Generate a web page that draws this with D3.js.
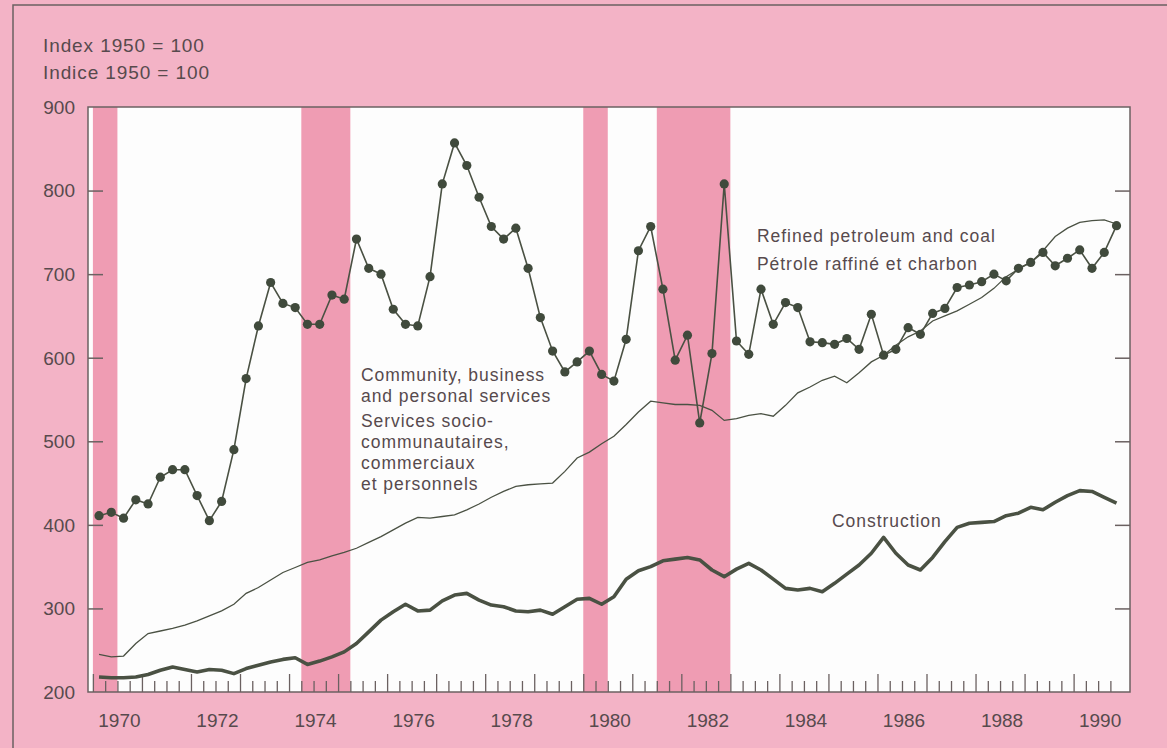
<!DOCTYPE html>
<html>
<head>
<meta charset="utf-8">
<script src="https://cdn.jsdelivr.net/npm/d3@7"></script>
<style>
  body { margin: 0; background: #f3b3c6; }
  svg { display: block; }
  text { font-family: "Liberation Sans", Arial, Helvetica, sans-serif; fill: #574a4d; }
</style>
</head>
<body>
<svg id="chart" width="1167" height="748"></svg>
<script>
// quarterly index values, 1970Q1 .. 1990Q4 (1950 = 100)
let firstYear = 1970;

let petroleum = [
  411, 415, 408, 430, 425, 457, 466, 466, 435, 405, 428, 490,
  575, 638, 690, 665, 660, 640, 640, 675, 670, 742, 707, 700,
  658, 640, 638, 697, 808, 857, 830, 792, 757, 742, 755, 707,
  648, 608, 583, 595, 608, 580, 572, 622, 728, 757, 682, 597,
  627, 522, 605, 808, 620, 604, 682, 640, 666, 660, 619, 618,
  616, 623, 610, 652, 603, 610, 636, 628, 653, 659, 684, 687,
  691, 700, 692, 707, 714, 726, 710, 719, 729, 707, 726, 758
];

let services = [
  245, 242, 243, 258, 270, 273, 276, 280, 285, 291, 297, 305,
  318, 325, 334, 343, 349, 355, 358, 363, 367, 372, 379, 386,
  394, 402, 409, 408, 410, 412, 418, 425, 433, 440, 446, 448,
  449, 450, 464, 480, 487, 497, 506, 520, 535, 548, 546, 544,
  544, 543, 537, 525, 527, 531, 533, 530, 543, 558, 565, 573,
  578, 570, 582, 595, 603, 615, 625, 632, 644, 650, 656, 664,
  672, 683, 697, 706, 714, 728, 745, 755, 762, 764, 765, 760
];

let construction = [
  218, 217, 217, 218, 221, 226, 230, 227, 224, 227, 226, 222,
  228, 232, 236, 239, 241, 233, 237, 242, 248, 258, 272, 286,
  296, 305, 297, 298, 309, 316, 318, 310, 304, 302, 297, 296,
  298, 293, 302, 311, 312, 305, 314, 335, 345, 350, 357, 359,
  361, 358, 346, 338, 347, 354, 346, 335, 324, 322, 324, 320,
  330, 341, 352, 366, 385, 366, 352, 346, 361, 380, 397, 402,
  403, 404, 411, 414, 421, 418, 427, 435, 441, 440, 433, 426
];

// shaded periods, in decimal years
let recessions = [[1970.0, 1970.5], [1974.25, 1975.25], [1980.0, 1980.5], [1981.5, 1983.0]];

let yTicks = [200, 300, 400, 500, 600, 700, 800, 900];
let yearLabels = [1970, 1972, 1974, 1976, 1978, 1980, 1982, 1984, 1986, 1988, 1990];

let svg = d3.select('#chart');
let plotLeft = 88, plotRight = 1130, plotTop = 107, plotBottom = 692;

let x = d3.scaleLinear().domain([1969.9, 1991.15]).range([plotLeft, plotRight]);
let y = d3.scaleLinear().domain([200, 900]).range([plotBottom, plotTop]);

// quarter midpoint in decimal years
function qt(i) { return firstYear + i / 4 + 0.125; }

let ink = '#4a5143';
let frameInk = '#6b6161';

// outer frame
svg.append('path')
  .attr('d', 'M13,748 V5 H1167')
  .attr('fill', 'none')
  .attr('stroke', frameInk)
  .attr('stroke-width', 1.5);

svg.append('text').attr('x', 43).attr('y', 52)
  .style('font-size', '19px').style('letter-spacing', '0.9px')
  .text('Index 1950 = 100');
svg.append('text').attr('x', 43).attr('y', 79)
  .style('font-size', '19px').style('letter-spacing', '0.9px')
  .text('Indice 1950 = 100');

// plot background
svg.append('rect')
  .attr('x', plotLeft).attr('y', plotTop)
  .attr('width', plotRight - plotLeft).attr('height', plotBottom - plotTop)
  .attr('fill', '#fdfdfd');

svg.append('g').selectAll('rect')
  .data(recessions)
  .join('rect')
    .attr('x', d => x(d[0]))
    .attr('y', plotTop)
    .attr('width', d => x(d[1]) - x(d[0]))
    .attr('height', plotBottom - plotTop)
    .attr('fill', '#ef9cb3');

// y axis ticks on both sides, pointing in
let yAxisL = d3.axisRight(y).tickValues(yTicks.slice(1, -1)).tickSize(15).tickFormat('');
let yAxisR = d3.axisLeft(y).tickValues(yTicks.slice(1, -1)).tickSize(15).tickFormat('');
[[yAxisL, plotLeft], [yAxisR, plotRight]].forEach(function (a) {
  let g = svg.append('g').attr('transform', 'translate(' + a[1] + ',0)').call(a[0]);
  g.select('.domain').remove();
  g.selectAll('line').attr('stroke', frameInk).attr('stroke-width', 1.5);
});

svg.append('g').selectAll('text')
  .data(yTicks)
  .join('text')
    .attr('x', 75)
    .attr('y', d => y(d))
    .attr('dy', '0.36em')
    .attr('text-anchor', 'end')
    .style('font-size', '19px')
    .text(d => d);

// x axis: quarterly ticks, taller at each year
let quarters = d3.range(1970, 1991, 0.25);
let xAxis = d3.axisTop(x).tickValues(quarters).tickSize(0).tickFormat('');
let gx = svg.append('g').attr('transform', 'translate(0,' + plotBottom + ')').call(xAxis);
gx.select('.domain').remove();
gx.selectAll('.tick line')
  .attr('y2', d => Math.abs(d - Math.round(d)) < 1e-6 ? -18 : -11)
  .attr('stroke', frameInk)
  .attr('stroke-width', 1.3);

svg.append('g').selectAll('text')
  .data(yearLabels)
  .join('text')
    .attr('x', d => x(d + 0.5) + 2)
    .attr('y', 727)
    .attr('text-anchor', 'middle')
    .style('font-size', '19px')
    .text(d => d);

// series
let line = d3.line()
  .x((d, i) => x(qt(i)))
  .y(d => y(d));

svg.append('path')
  .datum(services)
  .attr('d', line)
  .attr('fill', 'none')
  .attr('stroke', ink)
  .attr('stroke-width', 1.3);

svg.append('path')
  .datum(construction)
  .attr('d', line)
  .attr('fill', 'none')
  .attr('stroke', ink)
  .attr('stroke-width', 3.6)
  .attr('stroke-linejoin', 'round');

svg.append('path')
  .datum(petroleum)
  .attr('d', line)
  .attr('fill', 'none')
  .attr('stroke', ink)
  .attr('stroke-width', 1.6);

svg.append('g').selectAll('circle')
  .data(petroleum)
  .join('circle')
    .attr('cx', (d, i) => x(qt(i)))
    .attr('cy', d => y(d))
    .attr('r', 4.6)
    .attr('fill', '#404a3c');

// plot frame
svg.append('rect')
  .attr('x', plotLeft).attr('y', plotTop)
  .attr('width', plotRight - plotLeft).attr('height', plotBottom - plotTop)
  .attr('fill', 'none')
  .attr('stroke', frameInk)
  .attr('stroke-width', 1.5);

// series labels
let notes = [
  { x: 361, y: 381, t: 'Community, business' },
  { x: 361, y: 402, t: 'and personal services' },
  { x: 361, y: 427, t: 'Services socio-' },
  { x: 361, y: 448, t: 'communautaires,' },
  { x: 361, y: 469, t: 'commerciaux' },
  { x: 361, y: 490, t: 'et personnels' },
  { x: 757, y: 242, t: 'Refined petroleum and coal' },
  { x: 757, y: 270, t: 'Pétrole raffiné et charbon' },
  { x: 832, y: 527, t: 'Construction' }
];

svg.append('g').selectAll('text')
  .data(notes)
  .join('text')
    .attr('x', d => d.x)
    .attr('y', d => d.y)
    .style('font-size', '17.5px')
    .style('letter-spacing', '0.95px')
    .text(d => d.t);
</script>
</body>
</html>
